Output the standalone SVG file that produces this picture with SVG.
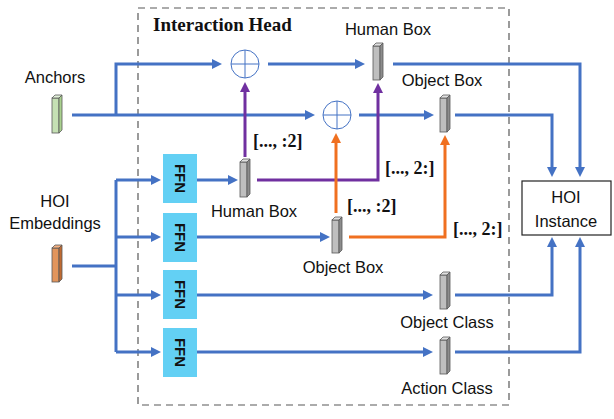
<svg xmlns="http://www.w3.org/2000/svg" width="614" height="419" viewBox="0 0 614 419">
<style>
.lbl{font-family:"Liberation Sans",Arial,sans-serif;font-size:16.5px;fill:#111;text-anchor:middle}
.idx{font-family:"Liberation Serif","Times New Roman",serif;font-size:18px;font-weight:bold;fill:#111}
.ttl{font-family:"Liberation Serif","Times New Roman",serif;font-size:19px;font-weight:bold;fill:#111}
.ffn rect{fill:#63d0f4}
.ffn text{font-family:"Liberation Sans",Arial,sans-serif;font-size:15px;font-weight:bold;fill:#111;text-anchor:middle}
.blue{fill:none;stroke:#4472c4;stroke-width:3}
.purple{fill:none;stroke:#7030a0;stroke-width:3}
.orange{fill:none;stroke:#f07020;stroke-width:3}
.cube polygon,.cube rect{stroke:#595959;stroke-width:0.8}
.gray .f{fill:#bfbfbf}.gray .t{fill:#e0e0e0}.gray .s{fill:#8c8c8c}
.plus circle{fill:#fff;stroke:#4472c4;stroke-width:1}
.plus line{stroke:#4472c4;stroke-width:1}
</style>
<defs>
<marker id="ab" viewBox="0 0 10 10" refX="4" refY="5" markerWidth="10" markerHeight="10" markerUnits="userSpaceOnUse" orient="auto"><path d="M0,0 L10,5 L0,10 z" fill="#4472c4"/></marker>
<marker id="ap" viewBox="0 0 10 10" refX="4" refY="5" markerWidth="10" markerHeight="10" markerUnits="userSpaceOnUse" orient="auto"><path d="M0,0 L10,5 L0,10 z" fill="#7030a0"/></marker>
<marker id="ao" viewBox="0 0 10 10" refX="4" refY="5" markerWidth="10" markerHeight="10" markerUnits="userSpaceOnUse" orient="auto"><path d="M0,0 L10,5 L0,10 z" fill="#f07020"/></marker>
</defs>
<rect width="614" height="419" fill="#fff"/>
<g id="interaction-head">
<rect x="138" y="8" width="371" height="397" fill="none" stroke="#595959" stroke-width="1.2" stroke-dasharray="7,5"/>
<text class="ttl" x="153" y="31">Interaction Head</text>
</g>
<g id="connectors">
<path class="blue" d="M72,115 H309" marker-end="url(#ab)"/>
<path class="blue" d="M116,115 V64 H216" marker-end="url(#ab)"/>
<path class="blue" d="M268,64 H359" marker-end="url(#ab)"/>
<path class="blue" d="M359,115 H428" marker-end="url(#ab)"/>
<path class="blue" d="M393,64 H580 V171" marker-end="url(#ab)"/>
<path class="blue" d="M455,115 H552 V171" marker-end="url(#ab)"/>
<path class="blue" d="M72,266 H116"/>
<path class="blue" d="M116,180 V352"/>
<path class="blue" d="M116,180 H155" marker-end="url(#ab)"/>
<path class="blue" d="M116,237 H155" marker-end="url(#ab)"/>
<path class="blue" d="M116,295 H155" marker-end="url(#ab)"/>
<path class="blue" d="M116,352 H155" marker-end="url(#ab)"/>
<path class="blue" d="M197,180 H232" marker-end="url(#ab)"/>
<path class="blue" d="M197,237 H324" marker-end="url(#ab)"/>
<path class="blue" d="M197,295 H427" marker-end="url(#ab)"/>
<path class="blue" d="M197,352 H427" marker-end="url(#ab)"/>
<path class="blue" d="M455,295 H552 V243" marker-end="url(#ab)"/>
<path class="blue" d="M455,352 H580 V243" marker-end="url(#ab)"/>
<path class="purple" d="M245,157 V88" marker-end="url(#ap)"/>
<path class="purple" d="M257,180 H378 V89" marker-end="url(#ap)"/>
<path class="orange" d="M336,213 V139" marker-end="url(#ao)"/>
<path class="orange" d="M349,237 H445 V141" marker-end="url(#ao)"/>
</g>
<g id="plus1" class="plus"><circle cx="245" cy="64" r="14"/><line x1="231" y1="64" x2="259" y2="64"/><line x1="245" y1="50" x2="245" y2="78"/></g>
<g id="plus2" class="plus"><circle cx="337" cy="115" r="14"/><line x1="323" y1="115" x2="351" y2="115"/><line x1="337" y1="101" x2="337" y2="129"/></g>
<g id="anchors" class="cube">
<rect x="52" y="98" width="7" height="35" fill="#c5e0b4"/>
<polygon points="52,98 55,95 62,95 59,98" fill="#e2f0d9"/>
<polygon points="59,98 62,95 62,130 59,133" fill="#a9d18e"/>
<text class="lbl" x="55" y="83">Anchors</text>
</g>
<g id="hoi-embeddings" class="cube">
<rect x="52" y="248" width="7" height="34" fill="#e2955c"/>
<polygon points="52,248 55,245 62,245 59,248" fill="#f4b183"/>
<polygon points="59,248 62,245 62,279 59,282" fill="#c06a30"/>
<text class="lbl" x="55" y="207">HOI</text>
<text class="lbl" x="55" y="229">Embeddings</text>
</g>
<g id="ffn1" class="ffn"><rect x="163" y="154" width="34" height="49"/><text transform="translate(174.6,178.5) rotate(90)">FFN</text></g>
<g id="ffn2" class="ffn"><rect x="163" y="213" width="34" height="49"/><text transform="translate(174.6,237.5) rotate(90)">FFN</text></g>
<g id="ffn3" class="ffn"><rect x="163" y="270" width="34" height="49"/><text transform="translate(174.6,294.5) rotate(90)">FFN</text></g>
<g id="ffn4" class="ffn"><rect x="163" y="328" width="34" height="49"/><text transform="translate(174.6,352.5) rotate(90)">FFN</text></g>
<g id="human-box-mid" class="cube gray">
<rect class="f" x="240" y="162" width="7" height="35"/>
<polygon class="t" points="240,162 243,159 250,159 247,162"/>
<polygon class="s" points="247,162 250,159 250,194 247,197"/>
<text class="lbl" x="254" y="217">Human Box</text>
</g>
<g id="object-box-mid" class="cube gray">
<rect class="f" x="332" y="220" width="7" height="33"/>
<polygon class="t" points="332,220 335,217 342,217 339,220"/>
<polygon class="s" points="339,220 342,217 342,250 339,253"/>
<text class="lbl" x="343" y="273">Object Box</text>
</g>
<g id="human-box" class="cube gray">
<rect class="f" x="373" y="46" width="7" height="34"/>
<polygon class="t" points="373,46 376,43 383,43 380,46"/>
<polygon class="s" points="380,46 383,43 383,77 380,80"/>
<text class="lbl" x="388" y="35">Human Box</text>
</g>
<g id="object-box" class="cube gray">
<rect class="f" x="440" y="98" width="7" height="34"/>
<polygon class="t" points="440,98 443,95 450,95 447,98"/>
<polygon class="s" points="447,98 450,95 450,129 447,132"/>
<text class="lbl" x="442" y="86">Object Box</text>
</g>
<g id="object-class" class="cube gray">
<rect class="f" x="440" y="275" width="7" height="34"/>
<polygon class="t" points="440,275 443,272 450,272 447,275"/>
<polygon class="s" points="447,275 450,272 450,306 447,309"/>
<text class="lbl" x="447" y="328">Object Class</text>
</g>
<g id="action-class" class="cube gray">
<rect class="f" x="440" y="340" width="7" height="34"/>
<polygon class="t" points="440,340 443,337 450,337 447,340"/>
<polygon class="s" points="447,340 450,337 450,371 447,374"/>
<text class="lbl" x="447" y="394">Action Class</text>
</g>
<g id="hoi-instance">
<rect x="522" y="181" width="89" height="54" fill="#fff" stroke="#222" stroke-width="1.2"/>
<text class="lbl" x="566" y="203">HOI</text>
<text class="lbl" x="566" y="227">Instance</text>
</g>
<g id="index-labels">
<text class="idx" x="253" y="147">[..., :2]</text>
<text class="idx" x="385" y="174">[..., 2:]</text>
<text class="idx" x="347" y="212">[..., :2]</text>
<text class="idx" x="453" y="235">[..., 2:]</text>
</g>
</svg>
